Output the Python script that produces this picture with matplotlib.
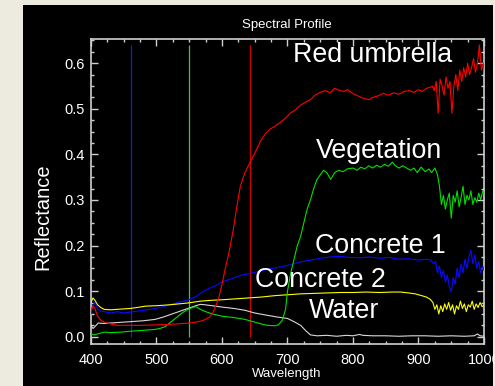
import matplotlib
matplotlib.use("Agg")
import matplotlib.pyplot as plt
from matplotlib.patches import Rectangle
from matplotlib.ticker import MultipleLocator

# ---------------- data ----------------
red_wl = [400, 403, 406, 410, 415, 420, 430, 440, 460, 480, 500, 520, 540, 550, 560, 570, 580, 585,
          590, 595, 600, 605, 610, 617, 622, 628, 635, 643, 651, 659, 666, 674, 681, 689, 696, 704,
          712, 720, 728, 735, 742, 750, 758, 765, 772, 780, 786, 792, 800, 808, 816, 824, 830, 838,
          846, 854, 862, 870, 878, 886, 893, 900, 906, 912, 918, 921, 924, 927, 930, 933, 936, 939,
          942, 945, 948, 951, 954, 957, 960, 963, 966, 969, 972, 975, 978, 981, 984, 987, 990, 993,
          996, 999, 1001]
red_val = [0.055, 0.068, 0.062, 0.045, 0.036, 0.032, 0.028, 0.025, 0.025, 0.025, 0.026, 0.027, 0.029,
           0.030, 0.032, 0.035, 0.042, 0.050, 0.065, 0.085, 0.115, 0.15, 0.18, 0.233, 0.28, 0.33,
           0.36, 0.383, 0.405, 0.43, 0.445, 0.456, 0.462, 0.47, 0.478, 0.49, 0.498, 0.508, 0.515,
           0.52, 0.53, 0.536, 0.54, 0.535, 0.545, 0.54, 0.538, 0.542, 0.533, 0.528, 0.523, 0.52,
           0.525, 0.528, 0.534, 0.53, 0.535, 0.532, 0.538, 0.54, 0.536, 0.542, 0.538, 0.545, 0.547,
           0.55, 0.54, 0.56, 0.49, 0.565, 0.55, 0.53, 0.57, 0.545, 0.56, 0.49, 0.55, 0.575, 0.54,
           0.585, 0.56, 0.59, 0.57, 0.60, 0.575, 0.59, 0.61, 0.58, 0.60, 0.64, 0.585, 0.60, 0.57]

veg_wl = [400, 405, 410, 420, 430, 446, 460, 480, 498, 505, 513, 520, 527, 533, 540, 548, 555, 560,
          567, 575, 585, 600, 618, 635, 650, 660, 669, 680, 686, 692, 697, 700, 705, 710, 715, 720,
          725, 730, 735, 740, 745, 750, 755, 760, 766, 772, 778, 785, 791, 800, 806, 812, 818, 824,
          830, 836, 842, 848, 854, 860, 864, 870, 876, 882, 888, 893, 898, 904, 910, 916, 920, 925,
          929, 932, 935, 938, 941, 944, 947, 950, 953, 956, 959, 962, 965, 968, 971, 974, 977, 980,
          983, 986, 989, 992, 995, 998, 1001]
veg_val = [0.006, 0.004, 0.006, 0.010, 0.009, 0.010, 0.012, 0.014, 0.016, 0.018, 0.022, 0.030, 0.038,
           0.045, 0.053, 0.060, 0.064, 0.066, 0.060, 0.055, 0.050, 0.045, 0.042, 0.038, 0.032, 0.028,
           0.025, 0.024, 0.026, 0.036, 0.060, 0.10, 0.14, 0.17, 0.20, 0.22, 0.25, 0.28, 0.30, 0.325,
           0.345, 0.355, 0.365, 0.36, 0.345, 0.36, 0.365, 0.362, 0.368, 0.37, 0.365, 0.372, 0.368,
           0.375, 0.37, 0.376, 0.372, 0.378, 0.374, 0.383, 0.376, 0.37, 0.375, 0.37, 0.365, 0.37,
           0.36, 0.372, 0.362, 0.368, 0.36, 0.37, 0.355, 0.33, 0.29, 0.31, 0.28, 0.30, 0.315, 0.26,
           0.31, 0.295, 0.32, 0.285, 0.305, 0.33, 0.29, 0.31, 0.30, 0.32, 0.29, 0.305, 0.295, 0.315,
           0.30, 0.32, 0.31]

con1_wl = [400, 403, 406, 410, 415, 420, 430, 440, 450, 460, 470, 480, 490, 498, 510, 520, 530, 540,
           548, 560, 570, 580, 590, 600, 610, 620, 630, 643, 655, 670, 689, 705, 720, 735, 750, 766,
           780, 795, 810, 825, 842, 855, 870, 885, 900, 912, 919, 923, 926, 929, 932, 935, 938, 941,
           944, 947, 950, 953, 956, 959, 962, 965, 968, 971, 974, 977, 980, 983, 986, 989, 992, 995,
           998, 1001]
con1_val = [0.05, 0.07, 0.075, 0.062, 0.056, 0.055, 0.052, 0.055, 0.052, 0.054, 0.056, 0.058, 0.060,
            0.062, 0.066, 0.070, 0.074, 0.078, 0.080, 0.088, 0.098, 0.106, 0.112, 0.12, 0.125, 0.13,
            0.135, 0.139, 0.143, 0.148, 0.153, 0.158, 0.164, 0.168, 0.172, 0.175, 0.176, 0.174, 0.173,
            0.175, 0.172, 0.174, 0.17, 0.171, 0.168, 0.17, 0.168, 0.16, 0.165, 0.14, 0.155, 0.13,
            0.145, 0.12, 0.135, 0.11, 0.098, 0.13, 0.115, 0.15, 0.13, 0.16, 0.14, 0.17, 0.15, 0.175,
            0.19, 0.16, 0.18, 0.15, 0.165, 0.14, 0.155, 0.142]

con2_wl = [400, 403, 406, 410, 415, 420, 430, 440, 450, 460, 470, 483, 500, 520, 548, 567, 585, 600,
           620, 640, 660, 680, 700, 720, 740, 760, 780, 800, 820, 840, 860, 873, 885, 895, 905, 912,
           918, 922, 925, 928, 931, 934, 937, 940, 943, 946, 949, 952, 955, 958, 961, 964, 967, 970,
           973, 976, 979, 982, 985, 988, 991, 994, 997, 1001]
con2_val = [0.075, 0.085, 0.08, 0.07, 0.064, 0.06, 0.059, 0.06, 0.061, 0.062, 0.064, 0.067, 0.068,
            0.07, 0.074, 0.078, 0.08, 0.081, 0.083, 0.085, 0.087, 0.09, 0.092, 0.094, 0.095, 0.096,
            0.097, 0.097, 0.098, 0.097, 0.098, 0.098, 0.096, 0.094, 0.09, 0.087, 0.082, 0.075, 0.06,
            0.07, 0.05, 0.068, 0.055, 0.072, 0.06, 0.075, 0.058, 0.07, 0.05, 0.068, 0.06, 0.078, 0.062,
            0.072, 0.055, 0.07, 0.065, 0.078, 0.06, 0.072, 0.064, 0.075, 0.066, 0.07]

water_wl = [400, 403, 406, 411, 420, 430, 440, 450, 460, 470, 480, 498, 510, 520, 530, 540, 548, 560,
            567, 574, 585, 600, 618, 635, 650, 669, 685, 700, 710, 720, 728, 735, 745, 760, 775, 790,
            800, 810, 815, 830, 850, 870, 890, 910, 930, 950, 970, 985, 990, 994, 1001]
water_val = [0.025, 0.018, 0.022, 0.03, 0.029, 0.03, 0.031, 0.032, 0.033, 0.034, 0.035, 0.038, 0.043,
             0.048, 0.053, 0.058, 0.062, 0.068, 0.071, 0.07, 0.068, 0.065, 0.062, 0.058, 0.052, 0.047,
             0.043, 0.04, 0.033, 0.025, 0.013, 0.004, 0.002, 0.003, 0.001, 0.003, 0.002, 0.005, 0.003,
             0.002, 0.002, 0.001, 0.002, 0.002, 0.001, 0.002, 0.001, 0.002, 0.006, 0.002, 0.001]

band_wl = [461, 550, 642]
band_colors = ["#1a1ae6", "#40c840", "#d00000"]

labels = ["Red umbrella", "Vegetation", "Concrete 1", "Concrete 2", "Water"]
label_x = [709, 744, 742, 651, 733]
label_y = [0.603, 0.391, 0.183, 0.109, 0.040]

xticks = [400, 500, 600, 700, 800, 900, 1000]
yticks = [0.0, 0.1, 0.2, 0.3, 0.4, 0.5, 0.6]

# ---------------- figure ----------------
W, H = 495, 386
fig = plt.figure(figsize=(W / 100, H / 100), dpi=100, facecolor="#edeadf")
fig.patches.append(Rectangle((23 / W, 0), 470 / W, 381 / H, transform=fig.transFigure,
                             facecolor="black", edgecolor="none", zorder=-10))

ax = fig.add_axes([91 / W, 1 - 344 / H, (484 - 91) / W, (344 - 39.5) / H])
ax.set_zorder(1)
ax.set_facecolor("black")

narrow = ["Liberation Sans Narrow", "Liberation Sans", "DejaVu Sans"]
sans = ["Liberation Sans", "DejaVu Sans"]

ax.vlines(band_wl, 0, 0.64, colors=band_colors, lw=0.9, zorder=1)

lw = 0.8
ax.plot(con1_wl, con1_val, color="#0a0aff", lw=lw, zorder=3)
ax.plot(con2_wl, con2_val, color="#ffff00", lw=lw, zorder=3)
ax.plot(water_wl, water_val, color="#d8d8d8", lw=lw, zorder=3)
ax.plot(veg_wl, veg_val, color="#00e000", lw=lw, zorder=3)
ax.plot(red_wl, red_val, color="#ff0000", lw=lw, zorder=4)

for t, x, y in zip(labels, label_x, label_y):
    ax.text(x, y, t, color="white", fontsize=19.3, family=sans, ha="left", va="baseline", zorder=5)

ax.set_xlim(400, 1000)
ax.set_ylim(-0.016, 0.652)
ax.set_xticks(xticks)
ax.set_xticklabels([str(v) for v in xticks], family=narrow, fontsize=10.5)
ax.set_yticks(yticks)
ax.set_yticklabels([f"{v:.1f}" for v in yticks], family=narrow, fontsize=10.5)
ax.xaxis.set_minor_locator(MultipleLocator(25))
ax.yaxis.set_minor_locator(MultipleLocator(0.025))

spine_c = "#cfcfcf"
for s in ax.spines.values():
    s.set_color(spine_c)
    s.set_linewidth(1.2)
ax.tick_params(which="both", direction="in", top=True, right=True, colors=spine_c,
               labelcolor="white", width=1.0)
ax.tick_params(which="major", length=4.7)
ax.tick_params(which="minor", length=2.5)
ax.tick_params(axis="x", which="major", pad=6.3)
ax.tick_params(axis="y", which="major", pad=4.3)

fig.text(287 / W, 1 - 25 / H, "Spectral Profile", color="white", fontsize=9.5, family=narrow,
         ha="center", va="center")
fig.text(287 / W, 1 - 374 / H, "Wavelength", color="white", fontsize=9.5, family=narrow,
         ha="center", va="center")
fig.text(43 / W, 1 - 217 / H, "Reflectance", color="white", fontsize=14.5, family=sans,
         ha="center", va="center", rotation=90)

fig.savefig("out.png", dpi=100, facecolor=fig.get_facecolor())
